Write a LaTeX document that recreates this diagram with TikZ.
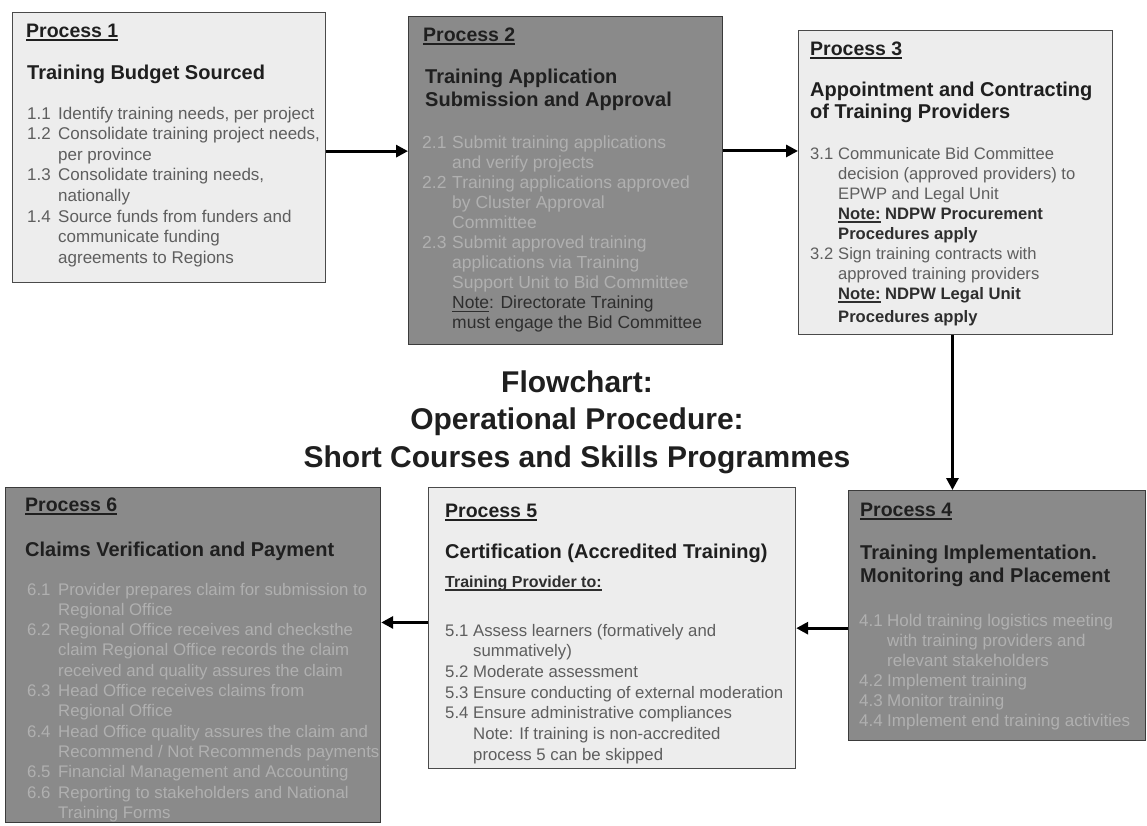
\documentclass[tikz,border=0pt]{standalone}
\usepackage{fontspec}
\setmainfont{Liberation Sans}
\usetikzlibrary{arrows.meta,calc}
\definecolor{lightfill}{HTML}{EDEDED}
\definecolor{darkfill}{HTML}{8A8A8A}
\definecolor{boxline}{HTML}{4A4A4A}
\definecolor{headtxt}{HTML}{1F1F1F}
\definecolor{bodylight}{HTML}{5E5E5E}
\definecolor{bodydark}{HTML}{B0B0B0}
\definecolor{notedark}{HTML}{2E2E2E}
\newlength{\hangw}
\newcommand{\itm}[2]{\par\noindent\hangindent=\hangw\hangafter=1\makebox[\hangw][l]{#1}#2\par}
\newcommand{\myul}[2][1.3pt]{\setbox0\hbox{#2}\rlap{\rule[-3.6pt]{\wd0}{#1}}\box0\relax}
\newcommand{\lbl}[1]{\fontsize{19.5}{22}\selectfont\bfseries\myul[1.6pt]{#1}}
\newcommand{\listsetup}[3]{\fontsize{#1}{#2}\selectfont\parskip=0pt\parindent=0pt\rightskip=0pt plus 1fil\setlength{\hangw}{#3}}
\tikzset{
  lightbox/.style={draw=boxline, line width=1.2pt, fill=lightfill, inner sep=0pt, anchor=north west},
  darkbox/.style={draw=boxline!80!black, line width=1.2pt, fill=darkfill, inner sep=0pt, anchor=north west},
  txt/.style={anchor=base west, inner sep=0pt, text=headtxt},
  arr/.style={line width=3pt, -{Triangle[length=12pt,width=12pt]}},
  ttl/.style={anchor=base, inner sep=0pt, text=headtxt, font=\fontsize{30}{36}\selectfont\bfseries}
}
\begin{document}
\begin{tikzpicture}[x=1pt,y=-1pt]
\useasboundingbox (0,0) rectangle (1147,825);
\fill[white] (0,0) rectangle (1147,825);
% boxes
\node[lightbox, minimum width=313pt, minimum height=270pt] (p1) at (12,12) {};
\node[darkbox, minimum width=314pt, minimum height=328pt] (p2) at (408,16) {};
\node[lightbox, minimum width=314pt, minimum height=304pt] (p3) at (798,30) {};
\node[darkbox, minimum width=297pt, minimum height=250pt] (p4) at (848,490) {};
\node[lightbox, minimum width=367pt, minimum height=281pt] (p5) at (428,487) {};
\node[darkbox, minimum width=375pt, minimum height=335pt] (p6) at (5,487) {};
% Process 1
\node[txt] (p1l) at (26,37) {\lbl{Process 1}};
\node[txt, font=\fontsize{20}{23}\selectfont\bfseries] (p1h) at (27,79) {Training Budget Sourced};
\node[txt, text=bodylight] (p1i) at (27,119) {\parbox[t]{330pt}{\listsetup{17}{20.6}{31pt}%
\itm{1.1}{Identify training needs, per project}
\itm{1.2}{Consolidate training project needs,\\per province}
\itm{1.3}{Consolidate training needs,\\nationally}
\itm{1.4}{Source funds from funders and\\communicate funding\\agreements to Regions}}};
% Process 2
\node[txt] (p2l) at (423,41) {\lbl{Process 2}};
\node[txt] (p2h) at (425,83) {\parbox[t]{300pt}{\fontsize{20}{23}\selectfont\bfseries Training Application\\Submission and Approval}};
\node[txt, text=bodydark] (p2i) at (422,148) {\parbox[t]{330pt}{\listsetup{17.5}{20.1}{30pt}%
\itm{2.1}{Submit training applications\\and verify projects}
\itm{2.2}{Training applications approved\\by Cluster Approval\\Committee}
\itm{2.3}{Submit approved training\\applications via Training\\Support Unit to Bid Committee\\\color{notedark}\myul{Note}: Directorate Training\\must engage the Bid Committee}}};
% Process 3
\node[txt] (p3l) at (810,55) {\lbl{Process 3}};
\node[txt] (p3h) at (810,96) {\parbox[t]{300pt}{\fontsize{20}{22}\selectfont\bfseries Appointment and Contracting\\of Training Providers}};
\node[txt, text=bodylight] (p3i) at (810,159) {\parbox[t]{330pt}{\listsetup{16.6}{20}{28pt}%
\itm{3.1}{Communicate Bid Committee\\decision (approved providers) to\\EPWP and Legal Unit\\{\bfseries\color{notedark}\myul{Note:} NDPW Procurement\\Procedures apply}}
\itm{3.2}{Sign training contracts with\\approved training providers\\{\bfseries\color{notedark}\myul{Note:} NDPW Legal Unit\\[3pt]Procedures apply}}}};
% Process 4
\node[txt] (p4l) at (860,516) {\lbl{Process 4}};
\node[txt] (p4h) at (860,559) {\parbox[t]{300pt}{\fontsize{20}{23}\selectfont\bfseries Training Implementation.\\Monitoring and Placement}};
\node[txt, text=bodydark] (p4i) at (859,626) {\parbox[t]{330pt}{\listsetup{17}{20}{28pt}%
\itm{4.1}{Hold training logistics meeting\\with training providers and\\relevant stakeholders}
\itm{4.2}{Implement training}
\itm{4.3}{Monitor training}
\itm{4.4}{Implement end training activities}}};
% Process 5
\node[txt] (p5l) at (445,517) {\lbl{Process 5}};
\node[txt, font=\fontsize{20}{23}\selectfont\bfseries] (p5h) at (445,558) {Certification (Accredited Training)};
\node[txt, font=\fontsize{16}{19}\selectfont\bfseries, text=notedark] (p5s) at (445,587) {\myul[1.2pt]{Training Provider to:}};
\node[txt, text=bodylight] (p5i) at (445,636) {\parbox[t]{360pt}{\listsetup{16.75}{20.7}{28pt}%
\itm{5.1}{Assess learners (formatively and\\summatively)}
\itm{5.2}{Moderate assessment}
\itm{5.3}{Ensure conducting of external moderation}
\itm{5.4}{Ensure administrative compliances\\Note: If training is non-accredited\\process 5 can be skipped}}};
% Process 6
\node[txt] (p6l) at (25,511) {\lbl{Process 6}};
\node[txt, font=\fontsize{20}{23}\selectfont\bfseries] (p6h) at (25,556) {Claims Verification and Payment};
\node[txt, text=bodydark] (p6i) at (27,595) {\parbox[t]{380pt}{\listsetup{16.8}{20.3}{31pt}%
\itm{6.1}{Provider prepares claim for submission to\\Regional Office}
\itm{6.2}{Regional Office receives and checksthe\\claim Regional Office records the claim\\received and quality assures the claim}
\itm{6.3}{Head Office receives claims from\\Regional Office}
\itm{6.4}{Head Office quality assures the claim and\\Recommend / Not Recommends payments}
\itm{6.5}{Financial Management and Accounting}
\itm{6.6}{Reporting to stakeholders and National\\Training Forms}}};
% title
\node[ttl] (t1) at (577,392) {Flowchart:};
\node[ttl] (t2) at (577,429) {Operational Procedure:};
\node[ttl] (t3) at (577,467) {Short Courses and Skills Programmes};
% arrows
\coordinate (a1) at ($(p1.north east)!0.513!(p1.south east)$);
\draw[arr] (a1) -- (a1 -| p2.west);
\coordinate (a2) at ($(p2.north east)!0.41!(p2.south east)$);
\draw[arr] (a2) -- (a2 -| p3.west);
\coordinate (a3) at ($(p3.south west)!0.49!(p3.south east)$);
\draw[arr] (a3) -- (a3 |- p4.north);
\coordinate (a4) at ($(p4.north west)!0.55!(p4.south west)$);
\draw[arr] (a4) -- (a4 -| p5.east);
\coordinate (a5) at ($(p5.north west)!0.48!(p5.south west)$);
\draw[arr] (a5) -- (a5 -| p6.east);
\end{tikzpicture}
\end{document}
